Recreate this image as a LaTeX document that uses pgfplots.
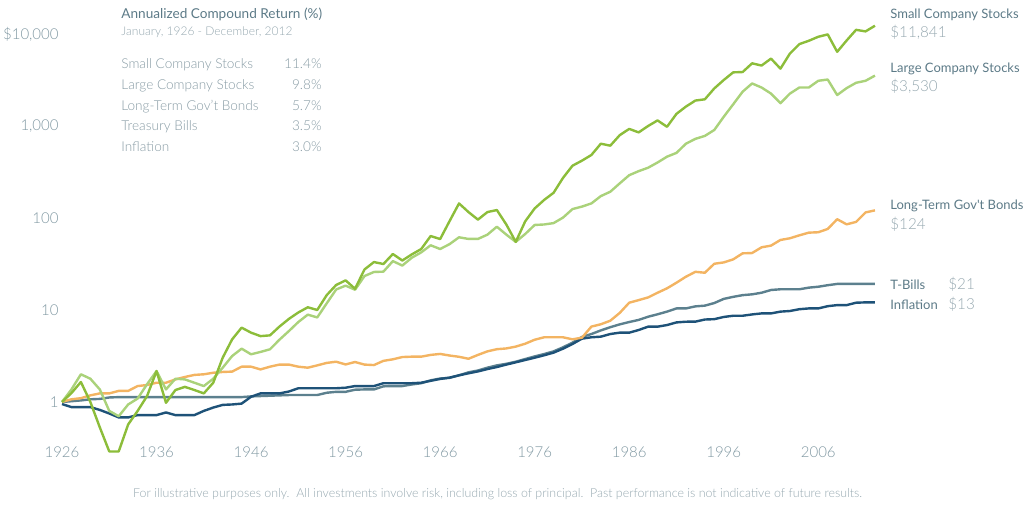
\documentclass[border=0pt]{standalone}
\usepackage{pgfplots}
\pgfplotsset{compat=1.18}
\usepackage{pgfplotstable}
\usepackage{fontspec}
\IfFontExistsTF{Lato Light}{\setmainfont{Lato Light}}{\setmainfont{Lato}}
\newfontfamily\regfont{Lato}
\definecolor{csmall}{RGB}{140,189,58}
\definecolor{clarge}{RGB}{170,210,122}
\definecolor{cbond}{RGB}{243,180,98}
\definecolor{cbill}{RGB}{92,128,142}
\definecolor{cinfl}{RGB}{30,82,120}
\definecolor{ctxt}{RGB}{92,122,135}
\definecolor{clight}{RGB}{150,168,176}
\definecolor{crow}{RGB}{135,155,164}
\definecolor{ctick}{RGB}{128,152,162}

\pgfplotstableread{
year small large bonds bills infl
1926 1.0 1.0 1.0 1.0 0.95
1927 1.25 1.37 1.07 1.02 0.88
1928 1.65 2.0 1.10 1.04 0.88
1929 1.0 1.79 1.18 1.07 0.88
1930 0.53 1.37 1.24 1.08 0.82
1931 0.29 0.80 1.24 1.12 0.75
1932 0.29 0.70 1.32 1.13 0.68
1933 0.57 0.94 1.32 1.13 0.68
1934 0.80 1.09 1.49 1.13 0.72
1935 1.16 1.56 1.53 1.13 0.72
1936 2.17 2.17 1.62 1.13 0.72
1937 0.98 1.37 1.62 1.13 0.77
1938 1.35 1.79 1.76 1.13 0.72
1939 1.46 1.76 1.87 1.13 0.72
1940 1.35 1.62 1.97 1.13 0.72
1941 1.24 1.49 2.0 1.13 0.80
1942 1.62 1.79 2.08 1.13 0.87
1943 3.03 2.36 2.12 1.13 0.93
1944 4.8 3.16 2.14 1.13 0.94
1945 6.43 3.8 2.42 1.13 0.96
1946 5.67 3.3 2.42 1.15 1.14
1947 5.2 3.5 2.26 1.16 1.24
1948 5.3 3.74 2.42 1.17 1.24
1949 6.6 4.75 2.55 1.18 1.24
1950 8.0 5.9 2.55 1.19 1.30
1951 9.4 7.4 2.42 1.19 1.41
1952 10.7 8.9 2.36 1.19 1.41
1953 10.0 8.3 2.50 1.19 1.41
1954 14.5 11.8 2.66 1.26 1.41
1955 18.7 16.7 2.74 1.29 1.41
1956 21.0 18.4 2.56 1.29 1.43
1957 17.0 16.6 2.72 1.36 1.49
1958 27.6 23.4 2.55 1.37 1.49
1959 33.2 25.9 2.52 1.37 1.49
1960 31.6 26.1 2.80 1.48 1.60
1961 40.6 34.0 2.91 1.49 1.60
1962 34.5 30.4 3.08 1.49 1.60
1963 40.2 37.0 3.11 1.55 1.60
1964 46 42.3 3.11 1.60 1.62
1965 63.7 50.5 3.25 1.72 1.70
1966 59 46.0 3.33 1.80 1.78
1967 92.6 52.0 3.20 1.83 1.84
1968 144 61.7 3.10 1.95 1.95
1969 116 59.2 2.95 2.10 2.05
1970 96 59.2 3.25 2.20 2.15
1971 116 65.9 3.55 2.36 2.28
1972 122 80.4 3.75 2.50 2.40
1973 85 66 3.82 2.60 2.55
1974 55 55 4.0 2.74 2.70
1975 92 67 4.3 2.93 2.86
1976 127 84 4.75 3.13 3.03
1977 157 85 5.05 3.32 3.22
1978 188 88 5.05 3.55 3.44
1979 273 101 5.05 3.93 3.8
1980 370 125 4.8 4.42 4.27
1981 420 133 5.0 5.09 4.88
1982 484 144 6.6 5.48 5.05
1983 642 173 7.0 6.0 5.13
1984 611 193 7.65 6.5 5.48
1985 795 238 9.3 6.98 5.67
1986 930 292 12.0 7.4 5.67
1987 852 323 12.8 7.8 6.06
1988 1000 352 13.7 8.45 6.59
1989 1150 401 15.4 8.98 6.59
1990 980 464 17.2 9.6 6.86
1991 1355 510 19.8 10.4 7.33
1992 1625 642 23.0 10.4 7.46
1993 1890 725 26.0 10.95 7.47
1994 1950 780 25.4 11.15 7.88
1995 2560 905 31.8 11.9 7.95
1996 3160 1260 32.9 13.2 8.4
1997 3830 1720 35.5 13.9 8.66
1998 3860 2360 41.3 14.5 8.66
1999 4800 2900 41.6 14.8 8.95
2000 4540 2620 48.0 15.4 9.18
2001 5400 2250 50.1 16.5 9.18
2002 4200 1770 57.7 16.8 9.6
2003 6130 2250 60.2 16.8 9.75
2004 7770 2620 64.8 16.8 10.2
2005 8440 2620 69.3 17.5 10.4
2006 9330 3100 70.0 17.9 10.4
2007 9900 3200 76.0 18.6 11.0
2008 6400 2170 97 19.2 11.3
2009 8500 2580 85.3 19.2 11.3
2010 11100 2950 90.7 19.2 12.0
2011 10670 3100 115 19.2 12.1
2012 12300 3530 121 19.2 12.1
}\data

\begin{document}
\begin{tikzpicture}
\begin{scope}[x=0.5pt,y=-0.5pt]
\path[use as bounding box] (0,0) rectangle (1030,518);
\end{scope}
\begin{axis}[
  at={(31pt,-233.2pt)}, anchor=south west,
  scale only axis, width=406.5pt, height=225.4pt,
  xmin=1926, xmax=2012, ymode=log, ymin=0.19953, ymax=15848.9,
  axis line style={draw=none}, major tick length=0pt, minor tick length=0pt,
  xtick={1926,1936,1946,1956,1966,1976,1986,1996,2006},
  xticklabels={1926,1936,1946,1956,1966,1976,1986,1996,2006},
  ytick={1,10,100,1000,10000},
  yticklabels={1,10,100,{1,000},{\$10,000}},
  ticklabel style={font=\fontsize{7.5}{9}\selectfont, text=ctick},
  xticklabel style={anchor=center, yshift=7pt},
  yticklabel style={anchor=east, inner sep=0pt, xshift=-1.5pt},
  clip=false,
  every axis plot/.append style={line join=round, line width=1.2pt, mark=none},
]
\addplot[cbill] table[x=year,y=bills]{\data};
\addplot[cinfl] table[x=year,y=infl]{\data};
\addplot[cbond] table[x=year,y=bonds]{\data};
\addplot[clarge] table[x=year,y=large]{\data};
\addplot[csmall] table[x=year,y=small]{\data};
\end{axis}
\begin{scope}[x=0.5pt,y=-0.5pt, every node/.style={inner sep=0pt}]
\node[anchor=base west, text=ctxt, font=\regfont\fontsize{6.8}{8}\selectfont] at (121,19) {Annualized Compound Return (\%)};
\node[anchor=base west, text=clight, font=\fontsize{6}{7}\selectfont] at (121,35.5) {January, 1926 - December, 2012};
\foreach \nm/\pc/\yy in {Small Company Stocks/11.4/68.5, Large Company Stocks/9.8/89.3, Long-Term Gov't Bonds/5.7/110.1, Treasury Bills/3.5/130.9, Inflation/3.0/151.7}{
  \node[anchor=base west, text=crow, font=\fontsize{6.8}{8}\selectfont] at (121,\yy) {\nm};
  \node[anchor=base east, text=crow, font=\fontsize{6.8}{8}\selectfont] at (322,\yy) {\pc\%};
}
\node[anchor=base west, text=ctxt, font=\regfont\fontsize{6.5}{8}\selectfont] at (890,18.3) {Small Company Stocks};
\node[anchor=base west, text=clight, font=\fontsize{7.6}{9}\selectfont] at (890,37.7) {\$11,841};
\node[anchor=base west, text=ctxt, font=\regfont\fontsize{6.5}{8}\selectfont] at (890,72.3) {Large Company Stocks};
\node[anchor=base west, text=clight, font=\fontsize{7.6}{9}\selectfont] at (890,91.7) {\$3,530};
\node[anchor=base west, text=ctxt, font=\regfont\fontsize{6.5}{8}\selectfont] at (890,209.3) {Long-Term Gov't Bonds};
\node[anchor=base west, text=clight, font=\fontsize{7.6}{9}\selectfont] at (890,229.3) {\$124};
\node[anchor=base west, text=ctxt, font=\regfont\fontsize{6.5}{8}\selectfont] at (890,289.3) {T-Bills};
\node[anchor=base west, text=clight, font=\fontsize{7.6}{9}\selectfont] at (948,289.3) {\$21};
\node[anchor=base west, text=ctxt, font=\regfont\fontsize{6.5}{8}\selectfont] at (890,309.3) {Inflation};
\node[anchor=base west, text=clight, font=\fontsize{7.6}{9}\selectfont] at (948,309.3) {\$13};
\node[anchor=base, text=clight, font=\fontsize{6.2}{7}\selectfont] at (497.5,498) {For illustrative purposes only.\ \ All investments involve risk, including loss of principal.\ \ Past performance is not indicative of future results.};
\end{scope}
\end{tikzpicture}
\end{document}
